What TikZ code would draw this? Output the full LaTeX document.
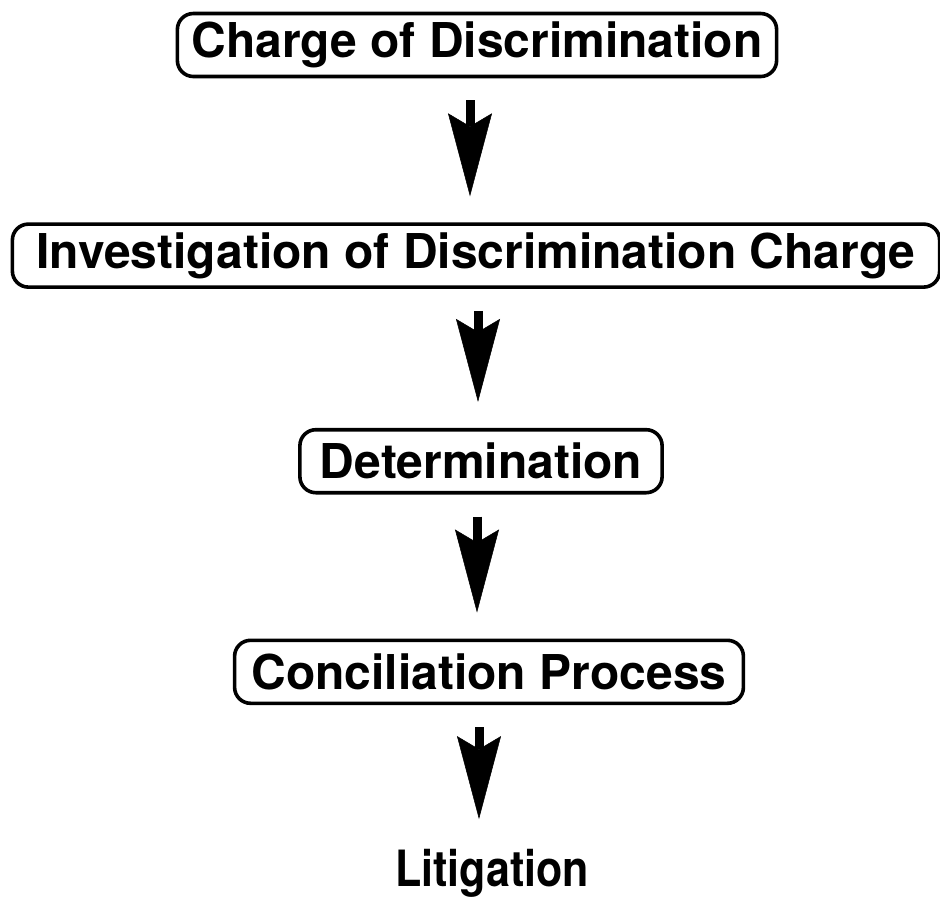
\documentclass[tikz,border=0pt]{standalone}
\usepackage{fontspec}
\setmainfont{TeX Gyre Heros}
\usepackage{tikz}
\usetikzlibrary{positioning,arrows.meta}

\begin{document}
\begin{tikzpicture}[auto,
	font=\fontsize{48}{56}\selectfont\bfseries,
	stage/.style={draw, line width=3.6pt, rounded corners=16pt, minimum height=63pt, inner xsep=14pt},
	bigarrow/.style={line width=9pt, -{Stealth[length=83pt, width=44pt, inset=13pt, line width=0.5pt]}, shorten <=22pt, shorten >=26pt}]
	\useasboundingbox (0,0) rectangle (940pt,-903pt);
	\node[stage] (Charge) at (477pt,-45pt) {Charge of Discrimination};
	\node[stage, below=144pt of Charge, xshift=-1pt, inner xsep=24pt] (Investigation) {Investigation of Discrimination Charge};
	\node[stage, below=139pt of Investigation, xshift=5pt, inner xsep=20pt] (Determination) {Determination};
	\node[stage, below=144pt of Determination, xshift=8pt, inner xsep=17pt] (Conciliation) {Conciliation Process};
	\node[font=\fontsize{50}{58}\selectfont\bfseries, minimum height=64pt, below=136pt of Conciliation, xshift=3pt, xscale=0.86, transform shape] (Litigation) {Litigation};

	% connectors
	\draw[bigarrow] ([xshift=-7pt]Charge.south) -- ([xshift=-7pt]Charge.south |- Investigation.north);
	\draw[bigarrow] ([xshift=2pt]Investigation.south) -- ([xshift=2pt]Investigation.south |- Determination.north);
	\draw[bigarrow] ([xshift=-4pt]Determination.south) -- ([xshift=-4pt]Determination.south |- Conciliation.north);
	\draw[bigarrow, shorten >=22pt] ([xshift=-10pt]Conciliation.south) -- ([xshift=-10pt]Conciliation.south |- Litigation.north);
\end{tikzpicture}
\end{document}
